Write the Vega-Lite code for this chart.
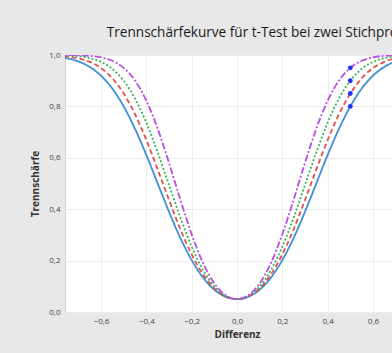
{
  "$schema": "https://vega.github.io/schema/vega-lite/v6.json",
  "width": 327,
  "height": 257,
  "autosize": {"type": "none"},
  "padding": {"left": 65, "top": 55, "right": 0, "bottom": 41},
  "background": "#e8e8e8",
  "title": {
    "text": "Trennschärfekurve für t-Test bei zwei Stichproben",
    "anchor": "start",
    "dx": 76,
    "offset": 11,
    "fontSize": 13.6,
    "fontWeight": "normal",
    "font": "Open Sans",
    "color": "#1a1a1a"
  },
  "config": {
    "view": {"fill": "white", "stroke": "#d4d4d4"},
    "axis": {
      "labelFont": "Open Sans",
      "labelFontSize": 8,
      "labelColor": "#444444",
      "titleFont": "Open Sans",
      "titleFontSize": 10,
      "titleFontWeight": "bold",
      "titleColor": "#333333",
      "ticks": false,
      "domain": false,
      "gridColor": "#ededed",
      "gridWidth": 1
    }
  },
  "datasets": {
    "curves": [
      {"s": "0,80", "d": -0.8, "p": 0.9942}, {"s": "0,80", "d": -0.75, "p": 0.9875}, {"s": "0,80", "d": -0.7, "p": 0.9751}, {"s": "0,80", "d": -0.65, "p": 0.9537}, {"s": "0,80", "d": -0.6, "p": 0.9195}, {"s": "0,80", "d": -0.55, "p": 0.869}, {"s": "0,80", "d": -0.5, "p": 0.8}, {"s": "0,80", "d": -0.45, "p": 0.7126}, {"s": "0,80", "d": -0.4, "p": 0.611}, {"s": "0,80", "d": -0.35, "p": 0.5}, {"s": "0,80", "d": -0.3, "p": 0.39}, {"s": "0,80", "d": -0.25, "p": 0.288}, {"s": "0,80", "d": -0.2, "p": 0.202}, {"s": "0,80", "d": -0.15, "p": 0.134}, {"s": "0,80", "d": -0.1, "p": 0.0867}, {"s": "0,80", "d": -0.05, "p": 0.059}, {"s": "0,80", "d": 0, "p": 0.05}, {"s": "0,80", "d": 0.05, "p": 0.059}, {"s": "0,80", "d": 0.1, "p": 0.0867}, {"s": "0,80", "d": 0.15, "p": 0.134}, {"s": "0,80", "d": 0.2, "p": 0.202}, {"s": "0,80", "d": 0.25, "p": 0.288}, {"s": "0,80", "d": 0.3, "p": 0.39}, {"s": "0,80", "d": 0.35, "p": 0.5}, {"s": "0,80", "d": 0.4, "p": 0.611}, {"s": "0,80", "d": 0.45, "p": 0.7126}, {"s": "0,80", "d": 0.5, "p": 0.8}, {"s": "0,80", "d": 0.55, "p": 0.869}, {"s": "0,80", "d": 0.6, "p": 0.9195}, {"s": "0,80", "d": 0.65, "p": 0.9537}, {"s": "0,80", "d": 0.7, "p": 0.9751}, {"s": "0,80", "d": 0.75, "p": 0.9875}, {"s": "0,80", "d": 0.8, "p": 0.9942},
      {"s": "0,85", "d": -0.8, "p": 0.9977}, {"s": "0,85", "d": -0.75, "p": 0.9944}, {"s": "0,85", "d": -0.7, "p": 0.9873}, {"s": "0,85", "d": -0.65, "p": 0.9735}, {"s": "0,85", "d": -0.6, "p": 0.9491}, {"s": "0,85", "d": -0.55, "p": 0.9092}, {"s": "0,85", "d": -0.5, "p": 0.85}, {"s": "0,85", "d": -0.45, "p": 0.7695}, {"s": "0,85", "d": -0.4, "p": 0.669}, {"s": "0,85", "d": -0.35, "p": 0.5547}, {"s": "0,85", "d": -0.3, "p": 0.4357}, {"s": "0,85", "d": -0.25, "p": 0.322}, {"s": "0,85", "d": -0.2, "p": 0.224}, {"s": "0,85", "d": -0.15, "p": 0.1465}, {"s": "0,85", "d": -0.1, "p": 0.092}, {"s": "0,85", "d": -0.05, "p": 0.0604}, {"s": "0,85", "d": 0, "p": 0.05}, {"s": "0,85", "d": 0.05, "p": 0.0604}, {"s": "0,85", "d": 0.1, "p": 0.092}, {"s": "0,85", "d": 0.15, "p": 0.1465}, {"s": "0,85", "d": 0.2, "p": 0.224}, {"s": "0,85", "d": 0.25, "p": 0.322}, {"s": "0,85", "d": 0.3, "p": 0.4357}, {"s": "0,85", "d": 0.35, "p": 0.5547}, {"s": "0,85", "d": 0.4, "p": 0.669}, {"s": "0,85", "d": 0.45, "p": 0.7695}, {"s": "0,85", "d": 0.5, "p": 0.85}, {"s": "0,85", "d": 0.55, "p": 0.9092}, {"s": "0,85", "d": 0.6, "p": 0.9491}, {"s": "0,85", "d": 0.65, "p": 0.9735}, {"s": "0,85", "d": 0.7, "p": 0.9873}, {"s": "0,85", "d": 0.75, "p": 0.9944}, {"s": "0,85", "d": 0.8, "p": 0.9977},
      {"s": "0,90", "d": -0.8, "p": 0.9994}, {"s": "0,90", "d": -0.75, "p": 0.9981}, {"s": "0,90", "d": -0.7, "p": 0.995}, {"s": "0,90", "d": -0.65, "p": 0.9879}, {"s": "0,90", "d": -0.6, "p": 0.9732}, {"s": "0,90", "d": -0.55, "p": 0.9459}, {"s": "0,90", "d": -0.5, "p": 0.9}, {"s": "0,90", "d": -0.45, "p": 0.8307}, {"s": "0,90", "d": -0.4, "p": 0.7366}, {"s": "0,90", "d": -0.35, "p": 0.6213}, {"s": "0,90", "d": -0.3, "p": 0.494}, {"s": "0,90", "d": -0.25, "p": 0.3675}, {"s": "0,90", "d": -0.2, "p": 0.254}, {"s": "0,90", "d": -0.15, "p": 0.1634}, {"s": "0,90", "d": -0.1, "p": 0.0994}, {"s": "0,90", "d": -0.05, "p": 0.0621}, {"s": "0,90", "d": 0, "p": 0.05}, {"s": "0,90", "d": 0.05, "p": 0.0621}, {"s": "0,90", "d": 0.1, "p": 0.0994}, {"s": "0,90", "d": 0.15, "p": 0.1634}, {"s": "0,90", "d": 0.2, "p": 0.254}, {"s": "0,90", "d": 0.25, "p": 0.3675}, {"s": "0,90", "d": 0.3, "p": 0.494}, {"s": "0,90", "d": 0.35, "p": 0.6213}, {"s": "0,90", "d": 0.4, "p": 0.7366}, {"s": "0,90", "d": 0.45, "p": 0.8307}, {"s": "0,90", "d": 0.5, "p": 0.9}, {"s": "0,90", "d": 0.55, "p": 0.9459}, {"s": "0,90", "d": 0.6, "p": 0.9732}, {"s": "0,90", "d": 0.65, "p": 0.9879}, {"s": "0,90", "d": 0.7, "p": 0.995}, {"s": "0,90", "d": 0.75, "p": 0.9981}, {"s": "0,90", "d": 0.8, "p": 0.9994},
      {"s": "0,95", "d": -0.8, "p": 0.9999}, {"s": "0,95", "d": -0.75, "p": 0.9997}, {"s": "0,95", "d": -0.7, "p": 0.999}, {"s": "0,95", "d": -0.65, "p": 0.9968}, {"s": "0,95", "d": -0.6, "p": 0.991}, {"s": "0,95", "d": -0.55, "p": 0.9775}, {"s": "0,95", "d": -0.5, "p": 0.95}, {"s": "0,95", "d": -0.45, "p": 0.9005}, {"s": "0,95", "d": -0.4, "p": 0.8223}, {"s": "0,95", "d": -0.35, "p": 0.7135}, {"s": "0,95", "d": -0.3, "p": 0.5804}, {"s": "0,95", "d": -0.25, "p": 0.4374}, {"s": "0,95", "d": -0.2, "p": 0.3025}, {"s": "0,95", "d": -0.15, "p": 0.191}, {"s": "0,95", "d": -0.1, "p": 0.1114}, {"s": "0,95", "d": -0.05, "p": 0.0651}, {"s": "0,95", "d": 0, "p": 0.05}, {"s": "0,95", "d": 0.05, "p": 0.0651}, {"s": "0,95", "d": 0.1, "p": 0.1114}, {"s": "0,95", "d": 0.15, "p": 0.191}, {"s": "0,95", "d": 0.2, "p": 0.3025}, {"s": "0,95", "d": 0.25, "p": 0.4374}, {"s": "0,95", "d": 0.3, "p": 0.5804}, {"s": "0,95", "d": 0.35, "p": 0.7135}, {"s": "0,95", "d": 0.4, "p": 0.8223}, {"s": "0,95", "d": 0.45, "p": 0.9005}, {"s": "0,95", "d": 0.5, "p": 0.95}, {"s": "0,95", "d": 0.55, "p": 0.9775}, {"s": "0,95", "d": 0.6, "p": 0.991}, {"s": "0,95", "d": 0.65, "p": 0.9968}, {"s": "0,95", "d": 0.7, "p": 0.999}, {"s": "0,95", "d": 0.75, "p": 0.9997}, {"s": "0,95", "d": 0.8, "p": 0.9999}
    ],
    "dots": [
      {"s": "0,80", "d": 0.5, "p": 0.8},
      {"s": "0,85", "d": 0.5, "p": 0.85},
      {"s": "0,90", "d": 0.5, "p": 0.9},
      {"s": "0,95", "d": 0.5, "p": 0.95}
    ]
  },
  "layer": [
    {
      "data": {"name": "curves"},
      "mark": {"type": "line", "strokeWidth": 1.8, "interpolate": "monotone", "clip": true},
      "encoding": {
        "x": {
          "field": "d",
          "type": "quantitative",
          "scale": {"domain": [-0.759, 0.684], "nice": false, "zero": false},
          "axis": {
            "values": [-0.6, -0.4, -0.2, 0, 0.2, 0.4, 0.6],
            "title": "Differenz",
            "labelExpr": "replace(format(datum.value, '.1f'), '.', ',')",
            "labelPadding": 5,
            "titlePadding": 4,
            "titleX": 172
          }
        },
        "y": {
          "field": "p",
          "type": "quantitative",
          "scale": {"domain": [0, 1], "nice": false},
          "axis": {
            "values": [0, 0.2, 0.4, 0.6, 0.8, 1],
            "title": "Trennschärfe",
            "labelExpr": "replace(format(datum.value, '.1f'), '.', ',')",
            "labelPadding": 5,
            "titlePadding": 8
          }
        },
        "color": {
          "field": "s",
          "type": "nominal",
          "scale": {"domain": ["0,80", "0,85", "0,90", "0,95"], "range": ["#3d8fd9", "#e0514a", "#3cb15a", "#b84fe0"]},
          "legend": null
        },
        "strokeDash": {
          "field": "s",
          "type": "nominal",
          "scale": {"domain": ["0,80", "0,85", "0,90", "0,95"], "range": [[1, 0], [5, 3], [2, 2], [7, 2, 2, 2]]},
          "legend": null
        }
      }
    },
    {
      "data": {"name": "dots"},
      "mark": {"type": "point", "filled": true, "size": 24, "opacity": 1, "color": "#1f33ee"},
      "encoding": {
        "x": {"field": "d", "type": "quantitative"},
        "y": {"field": "p", "type": "quantitative"}
      }
    }
  ]
}
